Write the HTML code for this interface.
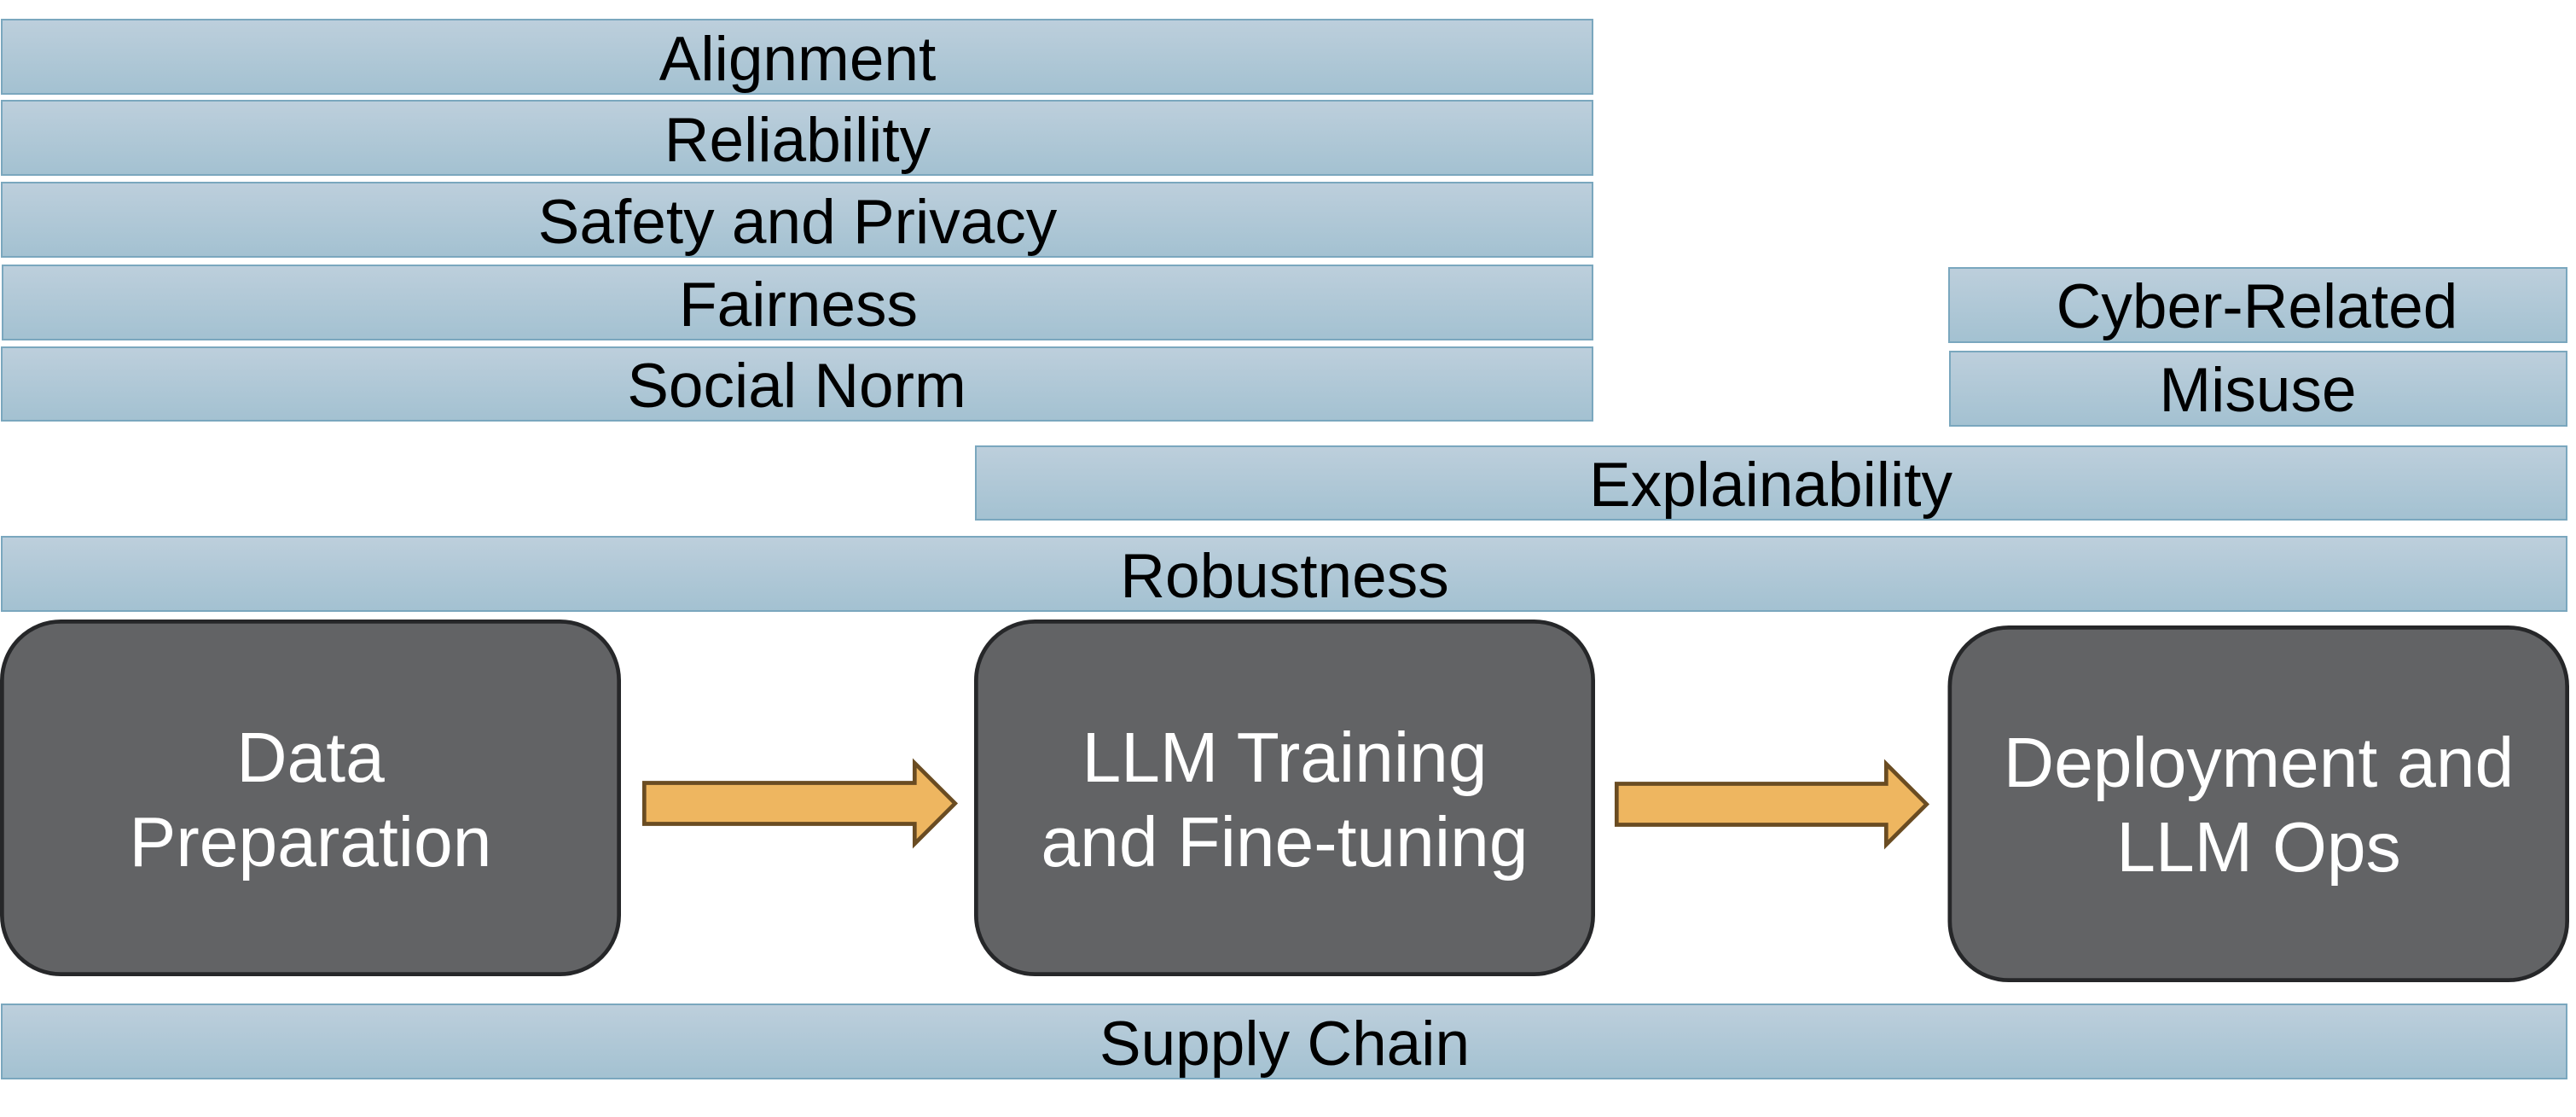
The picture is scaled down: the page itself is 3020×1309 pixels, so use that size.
<!DOCTYPE html>
<html><head><meta charset="utf-8">
<style>
html,body{margin:0;padding:0;background:#fff;width:3020px;height:1309px;overflow:hidden}
svg{display:block}
text{font-family:"Liberation Sans",Arial,sans-serif;text-anchor:middle}
.b{fill:url(#g);stroke:#7AA7BE;stroke-width:2}
.t{font-size:73px;fill:#000}
.n{fill:#626365;stroke:#262729;stroke-width:4.7}
.w{font-size:82.2px;fill:#fff}
.a{fill:#EEB660;stroke:#6A4C22;stroke-width:4.7}
</style></head>
<body>
<svg width="3020" height="1309" viewBox="0 0 3020 1309" xmlns="http://www.w3.org/2000/svg">
<defs><linearGradient id="g" x1="0" y1="0" x2="0" y2="1"><stop offset="0" stop-color="#BDCFDC"/><stop offset="1" stop-color="#A3C1D1"/></linearGradient></defs>

<rect class="b" x="2" y="23" width="1865" height="87"/>
<text class="t" x="935" y="94">Alignment</text>
<rect class="b" x="2" y="118" width="1865" height="87"/>
<text class="t" x="935" y="189">Reliability</text>
<rect class="b" x="2" y="214" width="1865" height="87"/>
<text class="t" x="935" y="285">Safety and Privacy</text>
<rect class="b" x="3" y="311" width="1864" height="87"/>
<text class="t" x="936" y="382">Fairness</text>
<rect class="b" x="2" y="407" width="1865" height="86"/>
<text class="t" x="934" y="477">Social Norm</text>

<rect class="b" x="2285" y="314" width="724" height="87"/>
<text class="t" x="2646" y="384">Cyber-Related</text>
<rect class="b" x="2286" y="412" width="723" height="87"/>
<text class="t" x="2647" y="482">Misuse</text>

<rect class="b" x="1144" y="523" width="1865" height="86"/>
<text class="t" x="2076" y="593">Explainability</text>
<rect class="b" x="2" y="629" width="3007" height="87"/>
<text class="t" x="1506" y="700">Robustness</text>

<rect class="n" x="2.35" y="728.35" width="723.3" height="413.3" rx="69" ry="69"/>
<text class="w" x="364" y="916">Data</text>
<text class="w" x="364" y="1015">Preparation</text>
<rect class="n" x="1144.35" y="728.35" width="723.3" height="413.3" rx="69" ry="69"/>
<text class="w" x="1506" y="916">LLM Training</text>
<text class="w" x="1506" y="1015">and Fine-tuning</text>
<rect class="n" x="2285.85" y="735.35" width="723.8" height="413.3" rx="69" ry="69"/>
<text class="w" x="2648" y="922">Deployment and</text>
<text class="w" x="2648" y="1021">LLM Ops</text>

<polygon class="a" points="755.3,917.5 1072.3,917.5 1072.3,894.2 1119.7,941.5 1072.3,988.8 1072.3,965.5 755.3,965.5"/>
<polygon class="a" points="1895.3,918.5 2211.3,918.5 2211.3,895.2 2258.7,942.5 2211.3,989.8 2211.3,966.5 1895.3,966.5"/>

<rect class="b" x="2" y="1177" width="3007" height="87"/>
<text class="t" x="1506" y="1248">Supply Chain</text>
</svg>
</body></html>
